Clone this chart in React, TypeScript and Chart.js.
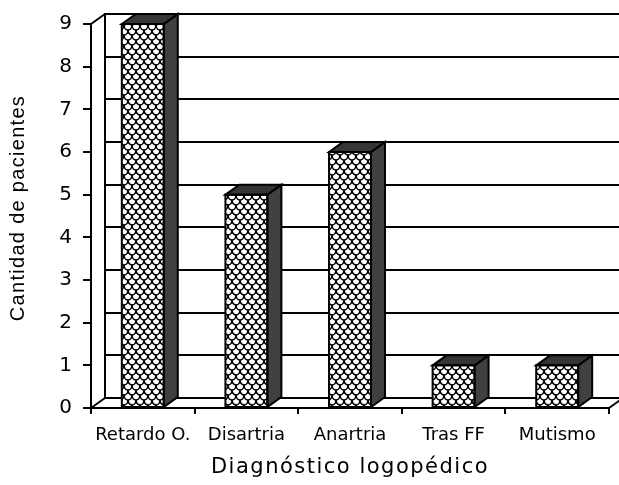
import React, { useEffect, useRef } from "react";
import { Chart, registerables } from "chart.js";

Chart.register(...registerables);

const categories = ["Retardo O.", "Disartria", "Anartria", "Tras FF", "Mutismo"];
const patients = [9, 5, 6, 1, 1];
const yMin = 0;
const yMax = 9;
const yStep = 1;
const xTitle = "Diagnóstico logopédico";
const yTitle = "Cantidad de pacientes";

const DX = 14;
const DY = -10;

function makePattern(): CanvasPattern | string {
  const c = document.createElement("canvas");
  c.width = 8;
  c.height = 10;
  const g = c.getContext("2d");
  if (!g) return "#fff";
  g.fillStyle = "#fff";
  g.fillRect(0, 0, 8, 10);
  g.strokeStyle = "#000";
  g.lineWidth = 1.6;
  const arc = (cx: number, cy: number) => {
    g.beginPath();
    g.ellipse(cx, cy, 4, 5, 0, 0, Math.PI);
    g.stroke();
  };
  arc(4, 0);
  arc(0, 5);
  arc(8, 5);
  arc(4, -10);
  arc(0, -5);
  arc(8, -5);
  const p = g.createPattern(c, "repeat");
  return p || "#fff";
}

function wrapText(scale: any, fn: string, spacing: string, shiftY = 0) {
  const orig = scale[fn];
  if (!orig || orig.__wrapped) return;
  const w: any = function (this: any, ...args: any[]) {
    const ctx = this.ctx;
    ctx.save();
    ctx.letterSpacing = spacing;
    ctx.translate(0, shiftY);
    try {
      return orig.apply(this, args);
    } finally {
      ctx.restore();
    }
  };
  w.__wrapped = true;
  scale[fn] = w;
}

const threeD = {
  id: "threeD",
  afterLayout(chart: any) {
    const { x, y } = chart.scales;
    wrapText(x, "drawLabels", "0px");
    wrapText(x, "drawTitle", "1.5px");
    wrapText(y, "drawTitle", "1.3px", -8);
  },
  beforeDatasetsDraw(chart: any) {
    const { ctx, chartArea: a, scales } = chart;
    const y = scales.y;
    const line = (x1: number, y1: number, x2: number, y2: number) => {
      ctx.beginPath();
      ctx.moveTo(x1, y1);
      ctx.lineTo(x2, y2);
      ctx.stroke();
    };
    ctx.save();
    ctx.strokeStyle = "#000";
    ctx.lineWidth = 2;
    ctx.lineCap = "butt";
    const bx = a.left + DX;
    for (const t of y.ticks) {
      const py = Math.round(y.getPixelForValue(t.value)) + DY;
      line(bx - 1, py, chart.width + 20, py);
    }
    const yTop = Math.round(y.getPixelForValue(yMax));
    const yBot = Math.round(y.getPixelForValue(yMin));
    line(bx, yTop + DY - 1, bx, yBot + DY + 1);
    line(a.left, yTop, bx, yTop + DY);
    line(a.left, yBot, bx, yBot + DY);
    line(a.right, yBot, a.right + DX, yBot + DY);
    ctx.restore();
  },
  afterDatasetsDraw(chart: any) {
    const { ctx } = chart;
    const meta = chart.getDatasetMeta(0);
    ctx.save();
    ctx.strokeStyle = "#000";
    ctx.lineWidth = 2;
    ctx.lineJoin = "miter";
    meta.data.forEach((bar: any) => {
      const { x, y, base, width } = bar.getProps(["x", "y", "base", "width"], true);
      const l = x - width / 2;
      const r = x + width / 2;
      ctx.fillStyle = "#404040";
      ctx.beginPath();
      ctx.moveTo(r, y);
      ctx.lineTo(r + DX, y + DY);
      ctx.lineTo(r + DX, base + DY);
      ctx.lineTo(r, base);
      ctx.closePath();
      ctx.fill();
      ctx.stroke();
      ctx.fillStyle = "#353535";
      ctx.beginPath();
      ctx.moveTo(l, y);
      ctx.lineTo(l + DX, y + DY);
      ctx.lineTo(r + DX, y + DY);
      ctx.lineTo(r, y);
      ctx.closePath();
      ctx.fill();
      ctx.stroke();
      ctx.strokeRect(l, y, r - l, base - y);
    });
    ctx.restore();
  },
};

export default function App() {
  const ref = useRef<HTMLCanvasElement | null>(null);
  useEffect(() => {
    const canvas = ref.current;
    if (!canvas) return;
    const pattern = makePattern();
    const chart = new Chart(canvas, {
      type: "bar",
      data: {
        labels: categories,
        datasets: [
          {
            data: patients,
            backgroundColor: pattern as any,
            borderColor: "#000",
            borderWidth: 0,
            categoryPercentage: 1,
            barPercentage: 0.405,
          },
        ],
      },
      options: {
        responsive: false,
        animation: false,
        events: [],
        layout: { padding: { top: 24, right: 10, left: 0, bottom: 0 } },
        plugins: { legend: { display: false }, tooltip: { enabled: false } },
        scales: {
          x: {
            grid: {
              offset: true,
              drawOnChartArea: false,
              drawTicks: true,
              tickLength: 6,
              color: "#000",
              lineWidth: 2,
            },
            border: { display: true, color: "#000", width: 2 },
            ticks: {
              color: "#000",
              font: { family: "'DejaVu Sans'", size: 18 },
              padding: 11,
              maxRotation: 0,
              autoSkip: false,
            },
            title: {
              display: true,
              text: xTitle,
              color: "#000",
              font: { family: "'DejaVu Sans'", size: 21 },
              padding: { top: 0, bottom: 5 },
            },
            afterFit: (s: any) => {
              s.height = 77;
            },
          },
          y: {
            min: yMin,
            max: yMax,
            grid: {
              drawOnChartArea: false,
              drawTicks: true,
              tickLength: 8,
              color: "#000",
              lineWidth: 2,
            },
            border: { display: true, color: "#000", width: 2 },
            ticks: {
              stepSize: yStep,
              color: "#000",
              font: { family: "'DejaVu Sans'", size: 20 },
              padding: 11,
            },
            title: {
              display: true,
              text: yTitle,
              color: "#000",
              font: { family: "'Liberation Sans'", size: 20 },
              padding: { top: 6, bottom: 0 },
            },
            afterFit: (s: any) => {
              s.width = 91;
            },
          },
        },
      },
      plugins: [threeD],
    });
    return () => chart.destroy();
  }, []);
  return (
    <div style={{ position: "fixed", left: 0, top: 0, width: 619, height: 485, background: "#fff" }}>
      <canvas ref={ref} width={619} height={485} style={{ display: "block" }} />
    </div>
  );
}
